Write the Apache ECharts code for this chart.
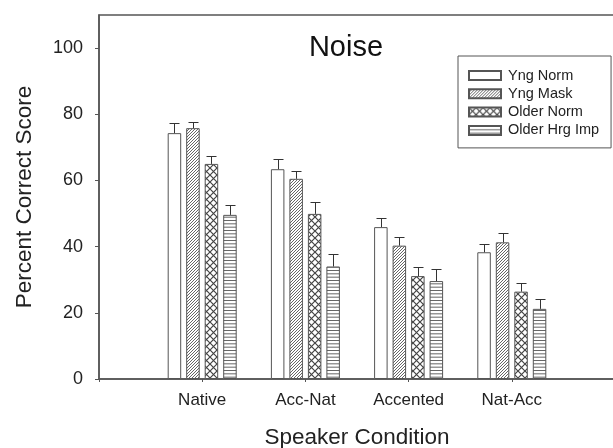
<!DOCTYPE html>
<html>
<head>
<meta charset="utf-8">
<script src="https://cdn.jsdelivr.net/npm/echarts@6/dist/echarts.min.js"></script>
<style>
html,body{margin:0;padding:0;background:#fff;}
#chart{width:613px;height:448px;}
</style>
</head>
<body>
<div id="chart"></div>
<script>
// ---- data ----
var categories = ['Native', 'Acc-Nat', 'Accented', 'Nat-Acc'];
var seriesNames = ['Yng Norm', 'Yng Mask', 'Older Norm', 'Older Hrg Imp'];
var yngNorm   = [74.3, 63.4, 45.9, 38.3];
var yngMask   = [75.8, 60.5, 40.3, 41.3];
var olderNorm = [65.0, 49.9, 31.1, 26.4];
var olderHrg  = [49.6, 34.0, 29.6, 21.2];
var yngNormErr   = [3.0, 3.0, 2.7, 2.6];
var yngMaskErr   = [2.0, 2.5, 2.6, 2.8];
var olderNormErr = [2.4, 3.5, 2.6, 2.5];
var olderHrgErr  = [2.9, 3.9, 3.6, 3.1];
var yTicks = [0, 20, 40, 60, 80, 100];

var values = [yngNorm, yngMask, olderNorm, olderHrg];
var errors = [yngNormErr, yngMaskErr, olderNormErr, olderHrgErr];

// padded category axis (empty slot at both ends, as in the figure)
var axisCats = [''].concat(categories).concat(['']);

// ---- patterns ----
function makeCanvas(w, h, draw) {
  var c = document.createElement('canvas');
  c.width = w; c.height = h;
  var ctx = c.getContext('2d');
  ctx.fillStyle = '#fff';
  ctx.fillRect(0, 0, w, h);
  draw(ctx, w, h);
  return c;
}
var diagPat = makeCanvas(3, 3, function (ctx, w, h) {
  ctx.strokeStyle = '#555';
  ctx.lineWidth = 0.9;
  ctx.beginPath();
  ctx.moveTo(-1, h + 1); ctx.lineTo(w + 1, -1);
  ctx.moveTo(-1 - w, h + 1); ctx.lineTo(1, -1);
  ctx.moveTo(w - 1, h + 1); ctx.lineTo(2 * w + 1, -1);
  ctx.stroke();
});
var crossPat = makeCanvas(7, 7, function (ctx, w, h) {
  ctx.strokeStyle = '#444';
  ctx.lineWidth = 1.2;
  ctx.beginPath();
  ctx.moveTo(0, 0); ctx.lineTo(w, h);
  ctx.moveTo(w, 0); ctx.lineTo(0, h);
  ctx.stroke();
});
var horizPat = makeCanvas(4, 10, function (ctx, w, h) {
  ctx.fillStyle = '#666';
  ctx.fillRect(0, 0, w, 1);
  ctx.fillRect(0, 3.33, w, 1);
  ctx.fillRect(0, 6.67, w, 1);
});
var fills = [
  '#ffffff',
  { image: diagPat, repeat: 'repeat' },
  { image: crossPat, repeat: 'repeat' },
  { image: horizPat, repeat: 'repeat' }
];

var barWidth = 13.5;
var barPitch = 18.5;
var font = '"Liberation Sans", Arial, Helvetica, sans-serif';

var series = [];
seriesNames.forEach(function (name, i) {
  series.push({
    name: name,
    type: 'bar',
    barWidth: barWidth,
    barGap: ((barPitch - barWidth) / barWidth * 100) + '%',
    data: ['-'].concat(values[i]).concat(['-']),
    itemStyle: { color: fills[i], borderColor: '#555', borderWidth: 1 },
    emphasis: { disabled: true },
    z: 2
  });
});

// error bars (upper half only, with cap)
var errData = [];
values.forEach(function (vals, s) {
  vals.forEach(function (v, c) {
    errData.push([c + 1, v, errors[s][c], s]);
  });
});
series.push({
  type: 'custom',
  name: 'err',
  data: errData,
  z: 3,
  silent: true,
  renderItem: function (params, api) {
    var cat = api.value(0), v = api.value(1), e = api.value(2), s = api.value(3);
    var base = api.coord([cat, v]);
    var top = api.coord([cat, v + e]);
    var x = base[0] + (s - 1.5) * barPitch;
    x = Math.round(x) + 0.5;
    var yt = Math.round(top[1]) + 0.5;
    var half = 5;
    return {
      type: 'group',
      children: [
        { type: 'line', shape: { x1: x, y1: base[1], x2: x, y2: yt }, style: { stroke: '#333', lineWidth: 1 } },
        { type: 'line', shape: { x1: x - half, y1: yt, x2: x + half, y2: yt }, style: { stroke: '#333', lineWidth: 1 } }
      ]
    };
  }
});

var chart = echarts.init(document.getElementById('chart'), null, { renderer: 'canvas' });
chart.setOption({
  backgroundColor: '#fff',
  animation: false,
  textStyle: { fontFamily: font },
  title: {
    text: 'Noise',
    left: 341,
    textAlign: 'center',
    top: 28,
    textStyle: { fontFamily: font, fontSize: 29, fontWeight: 'normal', color: '#111' }
  },
  legend: {
    data: seriesNames,
    orient: 'vertical',
    left: 458,
    top: 56,
    padding: [12, 12, 10, 10],
    itemWidth: 32,
    itemHeight: 9,
    itemGap: 3.3,
    backgroundColor: '#fff',
    borderColor: '#555',
    borderWidth: 1,
    borderRadius: 0,
    selectedMode: false,
    icon: 'rect',
    textStyle: { fontFamily: font, fontSize: 14.5, color: '#222', lineHeight: 14, padding: [0, 0, 0, 2] }
  },
  grid: {
    left: 99,
    right: -2,
    top: 15,
    bottom: 69,
    outerBoundsMode: 'none',
    containLabel: false,
    show: true,
    borderColor: '#555',
    borderWidth: 1.5,
    backgroundColor: 'transparent'
  },
  xAxis: {
    type: 'category',
    data: axisCats,
    boundaryGap: false,
    name: 'Speaker Condition',
    nameLocation: 'middle',
    nameGap: 47,
    nameTextStyle: { fontFamily: font, fontSize: 22.5, color: '#222' },
    axisLine: { lineStyle: { color: '#555', width: 1.5 } },
    axisTick: { show: true, inside: false, length: 3, alignWithLabel: true, lineStyle: { color: '#555' } },
    axisLabel: { fontFamily: font, fontSize: 17, color: '#222', margin: 13, interval: 0 },
    splitLine: { show: false }
  },
  yAxis: {
    type: 'value',
    min: 0,
    max: 110,
    interval: 20,
    name: 'Percent Correct Score',
    nameLocation: 'middle',
    nameGap: 63,
    nameTextStyle: { fontFamily: font, fontSize: 22.5, color: '#222' },
    axisLine: { show: true, lineStyle: { color: '#555', width: 1.5 } },
    axisTick: { show: true, length: 4, customValues: yTicks, lineStyle: { color: '#555' } },
    axisLabel: { fontFamily: font, fontSize: 18, color: '#222', margin: 16, customValues: yTicks },
    splitLine: { show: false }
  },
  series: series
});
</script>
</body>
</html>
